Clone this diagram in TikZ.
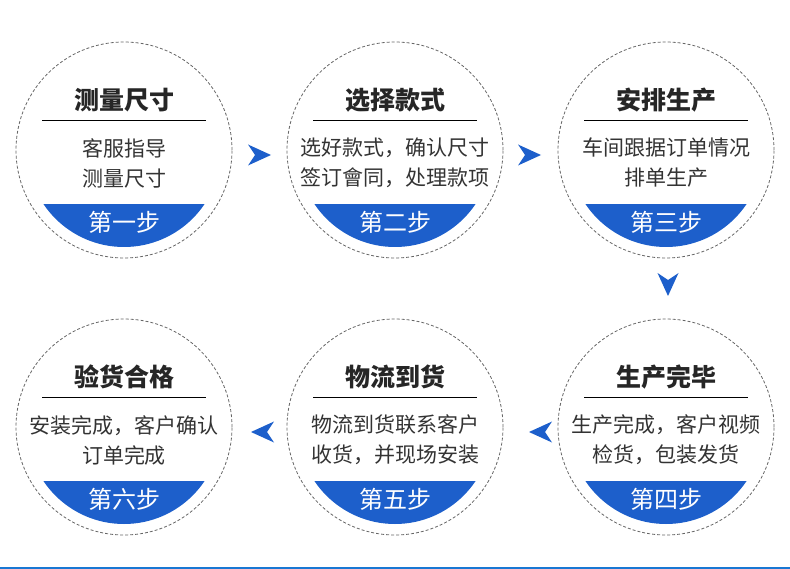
\documentclass[tikz,border=0pt]{standalone}
\usepackage{fontspec}
\setmainfont{Noto Sans CJK SC}
\usetikzlibrary{positioning}

\definecolor{stepblue}{HTML}{1D5FCB}
\definecolor{textgray}{HTML}{333333}
\definecolor{dashgray}{HTML}{666666}

\tikzset{
  stepcircle/.style={circle, draw=dashgray, dash pattern=on 3pt off 2pt, line width=0.8pt, minimum size=216pt, inner sep=0pt},
  steptitle/.style={font=\fontsize{25}{25}\selectfont\bfseries, text=black!85},
  stepbody/.style={font=\fontsize{21}{30}\selectfont, text=textgray, align=center},
  steplabel/.style={font=\fontsize{24}{24}\selectfont, text=white},
  flowtip/.pic={\fill[stepblue] (11,0) -- (-12,-10.5) -- (-5,0) -- (-12,10.5) -- cycle;}
}

\begin{document}
\begin{tikzpicture}[x=1pt, y=-1pt]
    \useasboundingbox (0,0) rectangle (790,569);

    % Draw the six steps
    \foreach \n/\cx/\cy/\head/\lineA/\lineB/\steptag in {
        1/124/150/测量尺寸/客服指导/测量尺寸/第一步,
        2/395/150/选择款式/选好款式，确认尺寸/签订會同，处理款项/第二步,
        3/666/150/安排生产/车间跟据订单情况/排单生产/第三步,
        4/666/427/生产完毕/生产完成，客户视频/检货，包装发货/第四步,
        5/395/427/物流到货/物流到货联系客户/收货，并现场安装/第五步,
        6/124/427/验货合格/安装完成，客户确认/订单完成/第六步}
    {
        \node[stepcircle] (s\n) at (\cx,\cy) {};
        \node[steptitle] (t\n) at ([yshift=50pt]s\n.center) {\head};
        \draw[line width=0.8pt] ([shift={(-82,-30)}]s\n.center) -- ([shift={(82,-30)}]s\n.center);
        \node[stepbody] (b\n) at ([yshift=-13pt]s\n.center) {\lineA\\\lineB};
        \begin{scope}
            \clip (s\n.center) circle[radius=97pt];
            \fill[stepblue] ([shift={(-100,54)}]s\n.center) rectangle ([shift={(100,110)}]s\n.center);
        \end{scope}
        \node[steplabel] (l\n) at ([yshift=-72pt]s\n.center) {\steptag};
    }

    % Draw the arrows between the steps
    \pic at (260,155) {flowtip};
    \pic at (530,155) {flowtip};
    \pic[rotate=-90] at (668,285) {flowtip};
    \pic[rotate=180] at (540,432) {flowtip};
    \pic[rotate=180] at (262,432) {flowtip};

    % Bottom rule
    \draw[stepblue!85!cyan, line width=1.2pt] (0,568) -- (790,568);

\end{tikzpicture}
\end{document}
